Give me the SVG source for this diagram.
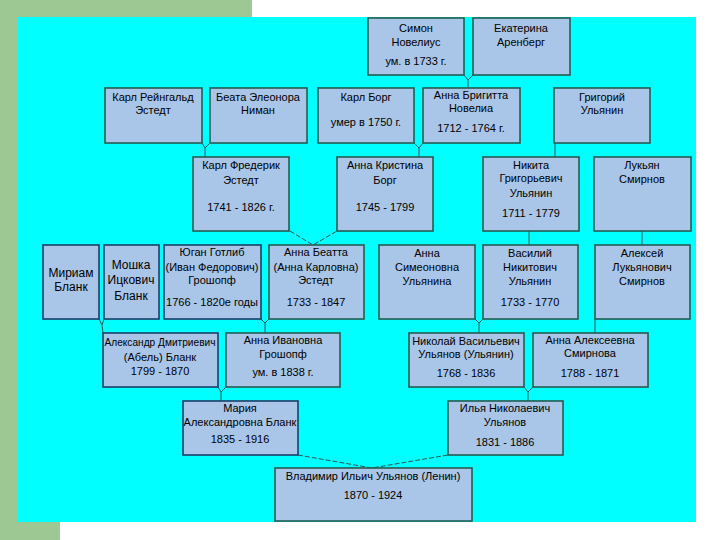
<svg xmlns="http://www.w3.org/2000/svg" width="720" height="540" viewBox="0 0 720 540">
<style>
.bx{fill:#a9c6e8;stroke:#235c50;stroke-width:1.6}
.nv{stroke:#1d3d68}
text{font-family:"Liberation Sans",Arial,sans-serif;font-size:11px;fill:#000;text-anchor:middle}
.big{font-size:12px}
.cn line,.cn path{stroke:#2a5a50;stroke-width:1;fill:none}
.cn .d{stroke-dasharray:5 2}
</style>
<rect x="0" y="0" width="720" height="540" fill="#ffffff"/>
<rect x="0" y="0" width="252" height="18" fill="#9ec893"/>
<rect x="0" y="0" width="18" height="540" fill="#9ec893"/>
<rect x="0" y="522" width="60" height="18" fill="#9ec893"/>
<rect x="18" y="17" width="678" height="505" fill="#00ffff"/>

<g class="cn" id="connectors">
<path d="M464,75 L468,80 L473,75 M468,80 L468,88"/>
<path d="M202,143 L205,148 L210,143 M205,148 L205,157"/>
<path d="M414,143 L419,148 L423,143 M419,148 L419,157"/>
<line x1="555" y1="143" x2="555" y2="157"/>
<path class="d" d="M290,231 L313,245 L337,231"/>
<line x1="529" y1="231" x2="529" y2="245"/>
<line x1="642" y1="231" x2="642" y2="245"/>
<path d="M99,319 L102,325 L104,319 M102,325 L103,333"/>
<path d="M261,319 L265,323 L269,319 M265,323 L265,333"/>
<path d="M475,319 L479,323 L483,319 M479,323 L479,333"/>
<line x1="595" y1="319" x2="595" y2="333"/>
<path d="M218,387 L221,392 L226,387 M221,392 L221,401"/>
<path d="M524,387 L528,392 L533,387 M528,392 L528,401"/>
<path class="d" d="M298,455 L372,468 L448,455"/>
</g>

<g id="simon"><rect class="bx" x="368" y="18" width="96" height="57"/>
<text x="416" y="32">Симон</text><text x="416" y="46">Новелиус</text><text x="416" y="65">ум. в 1733 г.</text></g>
<g id="ekaterina"><rect class="bx" x="473" y="18" width="97" height="57"/>
<text x="521" y="32">Екатерина</text><text x="521" y="46">Аренберг</text></g>

<g id="karl-reingald"><rect class="bx" x="105" y="88" width="97" height="55"/>
<text x="153" y="101">Карл Рейнгальд</text><text x="153" y="114">Эстедт</text></g>
<g id="beata"><rect class="bx" x="210" y="88" width="97" height="55"/>
<text x="258" y="101">Беата Элеонора</text><text x="258" y="114">Ниман</text></g>
<g id="karl-borg"><rect class="bx" x="318" y="88" width="96" height="55"/>
<text x="366" y="101">Карл Борг</text><text x="366" y="126">умер в 1750 г.</text></g>
<g id="anna-brigitta"><rect class="bx" x="423" y="88" width="97" height="55"/>
<text x="471" y="99">Анна Бригитта</text><text x="471" y="112">Новелиа</text><text x="471" y="132">1712 - 1764 г.</text></g>
<g id="grigoriy"><rect class="bx" x="554" y="88" width="96" height="55"/>
<text x="602" y="101">Григорий</text><text x="602" y="114">Ульянин</text></g>

<g id="karl-frederik"><rect class="bx" x="193" y="157" width="96" height="74"/>
<text x="241" y="169">Карл Фредерик</text><text x="241" y="184">Эстедт</text><text x="241" y="211">1741 - 1826 г.</text></g>
<g id="anna-kristina"><rect class="bx" x="337" y="157" width="96" height="74"/>
<text x="385" y="169">Анна Кристина</text><text x="385" y="184">Борг</text><text x="385" y="211">1745 - 1799</text></g>
<g id="nikita"><rect class="bx" x="483" y="157" width="96" height="74"/>
<text x="531" y="169">Никита</text><text x="531" y="182">Григорьевич</text><text x="531" y="197">Ульянин</text><text x="531" y="217">1711 - 1779</text></g>
<g id="lukyan"><rect class="bx" x="594" y="157" width="97" height="74"/>
<text x="642" y="169">Лукьян</text><text x="642" y="183">Смирнов</text></g>

<g id="miriam"><rect class="bx nv" x="43" y="245" width="56" height="74"/>
<text class="big" x="71" y="277">Мириам</text><text class="big" x="71" y="291">Бланк</text></g>
<g id="moshka"><rect class="bx nv" x="104" y="245" width="55" height="74"/>
<text class="big" x="131" y="269">Мошка</text><text class="big" x="131" y="284">Ицкович</text><text class="big" x="131" y="300">Бланк</text></g>
<g id="yugan"><rect class="bx nv" x="164" y="245" width="97" height="74"/>
<text x="212" y="256">Юган Готлиб</text><text x="212" y="271">(Иван Федорович)</text><text x="212" y="284">Грошопф</text><text x="212" y="306">1766 - 1820е годы</text></g>
<g id="anna-beatta"><rect class="bx" x="269" y="245" width="95" height="74"/>
<text x="316" y="256">Анна Беатта</text><text x="316" y="271">(Анна Карловна)</text><text x="316" y="284">Эстедт</text><text x="316" y="306">1733 - 1847</text></g>
<g id="anna-simeonovna"><rect class="bx" x="379" y="245" width="96" height="74"/>
<text x="427" y="257">Анна</text><text x="427" y="271">Симеоновна</text><text x="427" y="285">Ульянина</text></g>
<g id="vasiliy"><rect class="bx" x="483" y="245" width="95" height="74"/>
<text x="530" y="257">Василий</text><text x="530" y="271">Никитович</text><text x="530" y="285">Ульянин</text><text x="530" y="306">1733 - 1770</text></g>
<g id="aleksey"><rect class="bx" x="595" y="245" width="95" height="74"/>
<text x="642" y="257">Алексей</text><text x="642" y="271">Лукьянович</text><text x="642" y="285">Смирнов</text></g>

<g id="aleksandr"><rect class="bx nv" x="103" y="333" width="115" height="54"/>
<text x="160" y="346" textLength="111" lengthAdjust="spacingAndGlyphs">Александр Дмитриевич</text><text x="160" y="361">(Абель) Бланк</text><text x="160" y="375">1799 - 1870</text></g>
<g id="anna-ivanovna"><rect class="bx" x="226" y="333" width="114" height="54"/>
<text x="283" y="344">Анна Ивановна</text><text x="283" y="358">Грошопф</text><text x="283" y="376">ум. в 1838 г.</text></g>
<g id="nikolay"><rect class="bx" x="409" y="333" width="115" height="54"/>
<text x="466" y="345">Николай Васильевич</text><text x="466" y="358">Ульянов (Ульянин)</text><text x="466" y="377">1768 - 1836</text></g>
<g id="anna-alekseevna"><rect class="bx" x="533" y="333" width="115" height="54"/>
<text x="590" y="344">Анна Алексеевна</text><text x="590" y="357">Смирнова</text><text x="590" y="377">1788 - 1871</text></g>

<g id="mariya"><rect class="bx nv" x="183" y="401" width="115" height="54"/>
<text x="240" y="412">Мария</text><text x="240" y="426">Александровна Бланк</text><text x="240" y="443">1835 - 1916</text></g>
<g id="ilya"><rect class="bx" x="448" y="401" width="115" height="54"/>
<text x="505" y="412">Илья Николаевич</text><text x="505" y="426">Ульянов</text><text x="505" y="446">1831 - 1886</text></g>

<g id="vladimir"><rect class="bx" x="275" y="468" width="197" height="53"/>
<text x="373" y="480">Владимир Ильич Ульянов (Ленин)</text><text x="373" y="499">1870 - 1924</text></g>
</svg>
